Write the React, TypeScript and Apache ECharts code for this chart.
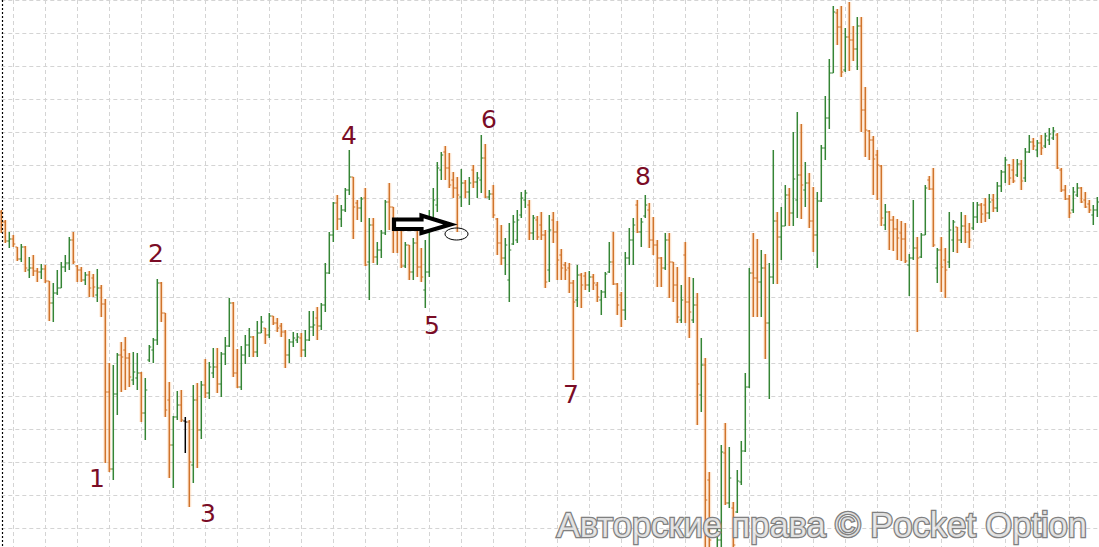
import React, { useEffect, useRef } from "react";
import * as echarts from "echarts";

// Bar levels (vertical screen-level units, axis is inverted:
// a smaller number is a higher price). One entry per bar, left to right.
const opens = [
  212, 222, 241, 239, 247, 259, 247, 270, 268, 271, 272, 269, 281, 303, 293, 288, 267, 263, 240, 266,
  270, 280, 275, 278, 295, 288, 304, 392, 469, 394, 355, 350, 358, 380, 378, 373, 413, 360, 350, 340,
  283, 313, 400, 445, 417, 405, 421, 422, 465, 400, 430, 385, 393, 373, 367, 384, 354, 346, 303, 373,
  387, 355, 345, 337, 352, 333, 328, 335, 316, 323, 326, 332, 355, 342, 340, 338, 350, 340, 327, 318,
  326, 305, 273, 235, 203, 219, 210, 190, 177, 203, 208, 198, 262, 225, 257, 250, 233, 202, 207, 225,
  230, 266, 245, 272, 243, 267, 290, 272, 222, 205, 170, 152, 168, 180, 188, 197, 183, 192, 170, 182,
  180, 158, 197, 194, 219, 243, 258, 280, 244, 240, 215, 200, 205, 233, 220, 225, 235, 270, 220, 232,
  255, 265, 268, 283, 300, 275, 276, 285, 277, 285, 300, 292, 272, 262, 284, 295, 310, 258, 240, 205,
  232, 216, 210, 240, 245, 258, 268, 240, 262, 285, 320, 255, 302, 320, 305, 395, 365, 480, 552, 560,
  540, 453, 503, 508, 512, 482, 451, 387, 273, 278, 282, 268, 323, 277, 221, 237, 226, 195, 213, 200,
  175, 190, 183, 221, 235, 201, 148, 118, 73, 13, 27, 70, 37, 40, 49, 26, 110, 131, 140, 155,
  166, 225, 212, 220, 229, 233, 239, 265, 258, 248, 257, 235, 180, 189, 268, 250, 260, 262, 240, 227,
  240, 226, 232, 228, 217, 205, 205, 213, 200, 208, 186, 172, 165, 170, 175, 164, 178, 152, 142, 150,
  143, 146, 140, 138, 135, 170, 190, 199, 210, 195, 188, 200, 204, 215, 210,
];
const highs = [
  210, 220, 232, 235, 247, 244, 246, 257, 255, 268, 264, 265, 281, 283, 270, 262, 255, 237, 232, 265,
  267, 272, 271, 274, 269, 285, 299, 363, 365, 353, 342, 337, 353, 352, 353, 372, 378, 345, 338, 279,
  282, 313, 382, 416, 391, 390, 417, 420, 385, 383, 381, 359, 362, 348, 348, 352, 337, 298, 302, 349,
  346, 335, 328, 336, 321, 316, 328, 313, 316, 318, 323, 330, 339, 332, 333, 333, 330, 311, 311, 307,
  303, 263, 232, 202, 195, 205, 188, 150, 177, 200, 197, 188, 218, 218, 242, 230, 200, 183, 207, 218,
  230, 242, 245, 238, 230, 248, 240, 210, 188, 162, 152, 146, 153, 172, 177, 169, 180, 177, 165, 172,
  135, 144, 190, 185, 218, 225, 238, 223, 215, 210, 192, 190, 200, 215, 216, 212, 230, 215, 212, 221,
  249, 262, 263, 280, 265, 273, 272, 271, 274, 282, 290, 272, 242, 232, 283, 292, 252, 228, 218, 200,
  218, 195, 203, 217, 240, 257, 233, 233, 262, 267, 285, 242, 277, 278, 293, 338, 358, 472, 548, 527,
  445, 423, 447, 502, 470, 441, 373, 268, 233, 239, 250, 254, 263, 150, 212, 207, 185, 188, 132, 112,
  124, 162, 173, 187, 192, 145, 96, 59, 6, 9, 6, 28, 2, 26, 17, 17, 87, 130, 136, 150,
  165, 204, 211, 216, 219, 221, 223, 254, 200, 237, 233, 185, 176, 168, 248, 237, 248, 212, 220, 227,
  212, 215, 223, 202, 202, 203, 198, 194, 194, 182, 170, 157, 164, 159, 159, 160, 148, 135, 138, 140,
  135, 133, 128, 127, 133, 168, 185, 195, 187, 183, 187, 192, 200, 205, 197,
];
const lows = [
  233, 243, 248, 247, 261, 262, 272, 278, 276, 282, 279, 283, 321, 322, 295, 288, 272, 270, 264, 282,
  282, 285, 297, 297, 302, 317, 463, 472, 480, 415, 392, 390, 387, 385, 390, 422, 440, 362, 363, 345,
  322, 417, 478, 488, 420, 422, 453, 507, 483, 468, 439, 398, 399, 378, 393, 397, 365, 347, 377, 388,
  390, 364, 357, 357, 357, 333, 344, 338, 325, 332, 337, 368, 363, 347, 343, 357, 357, 341, 336, 340,
  330, 312, 274, 242, 230, 227, 212, 195, 239, 220, 222, 266, 300, 263, 265, 258, 235, 230, 253, 253,
  268, 268, 280, 280, 277, 282, 308, 277, 230, 212, 180, 180, 188, 198, 232, 207, 198, 205, 188, 198,
  193, 198, 200, 218, 255, 265, 275, 302, 245, 243, 218, 208, 240, 240, 240, 240, 288, 282, 243, 280,
  280, 280, 293, 380, 307, 308, 290, 292, 290, 302, 315, 298, 273, 285, 315, 327, 320, 265, 265, 233,
  247, 218, 248, 255, 287, 287, 270, 298, 302, 323, 323, 323, 338, 323, 425, 412, 560, 555, 575, 570,
  560, 505, 508, 555, 513, 485, 452, 388, 317, 317, 317, 359, 399, 284, 284, 260, 226, 226, 226, 218,
  219, 207, 228, 252, 268, 202, 160, 129, 73, 45, 77, 72, 71, 61, 70, 132, 157, 160, 195, 200,
  226, 230, 250, 251, 260, 261, 263, 296, 260, 332, 258, 235, 190, 247, 283, 292, 298, 268, 252, 253,
  243, 243, 248, 230, 223, 223, 222, 219, 212, 212, 192, 183, 185, 183, 177, 190, 182, 153, 150, 157,
  155, 148, 145, 140, 169, 192, 200, 218, 213, 197, 203, 208, 213, 225, 217,
];
const closes = [
  222, 241, 239, 244, 259, 247, 268, 268, 271, 272, 269, 281, 303, 293, 288, 267, 263, 240, 262, 270,
  280, 275, 288, 287, 288, 304, 392, 469, 394, 355, 357, 358, 377, 372, 373, 413, 390, 347, 340, 283,
  313, 410, 445, 417, 405, 420, 422, 462, 400, 430, 385, 393, 367, 367, 384, 354, 346, 303, 373, 387,
  355, 345, 337, 352, 333, 322, 335, 316, 323, 328, 332, 355, 342, 338, 337, 350, 340, 327, 325, 326,
  305, 273, 235, 203, 219, 210, 190, 177, 207, 208, 199, 265, 225, 257, 250, 233, 202, 207, 225, 230,
  266, 245, 272, 243, 267, 277, 272, 220, 200, 168, 155, 168, 185, 188, 195, 183, 192, 183, 182, 178,
  158, 197, 194, 215, 243, 258, 245, 250, 222, 220, 198, 193, 233, 218, 237, 235, 282, 230, 232, 260,
  268, 270, 283, 302, 275, 285, 285, 277, 283, 297, 292, 274, 262, 284, 305, 310, 258, 240, 225, 232,
  222, 205, 240, 245, 258, 268, 240, 262, 285, 317, 300, 302, 312, 305, 384, 365, 500, 540, 565, 540,
  452, 503, 478, 545, 481, 451, 387, 273, 278, 282, 268, 323, 277, 221, 237, 226, 195, 213, 179, 175,
  185, 183, 221, 235, 201, 148, 118, 73, 12, 27, 72, 37, 40, 49, 26, 110, 130, 140, 159, 165,
  218, 212, 220, 229, 238, 239, 261, 258, 248, 258, 235, 188, 189, 245, 250, 267, 270, 230, 222, 240,
  226, 232, 240, 217, 205, 214, 213, 202, 208, 186, 172, 160, 178, 181, 164, 181, 152, 142, 146, 143,
  148, 136, 134, 131, 168, 190, 199, 213, 192, 188, 202, 207, 210, 210, 202,
];
// Bars drawn in black (the selected bar)
const blackBars = [46];

// Wave annotations (screen px)
const waveLabels = [
  { text: "1", x: 97, y: 478 },
  { text: "2", x: 156, y: 253 },
  { text: "3", x: 208, y: 513 },
  { text: "4", x: 349, y: 135 },
  { text: "5", x: 432, y: 325 },
  { text: "6", x: 489, y: 119 },
  { text: "7", x: 571, y: 394 },
  { text: "8", x: 643, y: 176 },
];

const WIDTH = 1099;
const HEIGHT = 547;
const GREEN = "#358535";
const ORANGE = "#d0742c";
const LABEL_COLOR = "#7a0c26";

export default function App() {
  const ref = useRef<HTMLDivElement>(null);

  useEffect(() => {
    if (!ref.current) return;
    const chart = echarts.init(ref.current, null, { renderer: "svg" });
    const categories = opens.map((_, i) => String(i));
    const data = opens.map((o, i) => {
      const kind = blackBars.includes(i) ? 2 : closes[i] < o ? 1 : closes[i] > o ? 0 : 1;
      return [i, o, highs[i], lows[i], closes[i], kind];
    });
    const n = opens.length;
    const step = 4;
    const left = 1.3;
    const right = WIDTH - left - (n - 1) * step;

    const graphics: any[] = [
      {
        type: "line",
        shape: { x1: 2.5, y1: 0, x2: 2.5, y2: HEIGHT },
        style: { stroke: "#000", lineWidth: 1.2, lineDash: [2, 2] },
        z: 50,
      },
      ...waveLabels.map((l) => ({
        type: "text",
        x: l.x,
        y: l.y,
        z: 60,
        style: {
          text: l.text,
          fill: LABEL_COLOR,
          font: '25px "DejaVu Sans"',
          fontSize: 25,
          fontFamily: "DejaVu Sans",
          align: "center",
          verticalAlign: "middle",
          textAlign: "center",
          textVerticalAlign: "middle",
        },
      })),
      {
        type: "polygon",
        z: 60,
        shape: {
          points: [
            [394, 219.5],
            [421.5, 219.5],
            [421.5, 215.5],
            [450.5, 224.5],
            [421.5, 233],
            [421.5, 229],
            [394, 229],
          ],
        },
        style: { fill: "#fff", stroke: "#000", lineWidth: 4.2, lineJoin: "miter" },
      },
      {
        type: "ellipse",
        z: 60,
        shape: { cx: 456.5, cy: 234, rx: 11.5, ry: 6 },
        style: { fill: "none", stroke: "#000", lineWidth: 1 },
      },
      {
        type: "text",
        x: 1087,
        y: 525,
        z: 70,
        style: {
          text: "Авторские права © Pocket Option",
          font: '34.5px "Liberation Sans"',
          fontSize: 34.5,
          fontFamily: "Liberation Sans",
          fill: "rgba(255,255,255,0.75)",
          stroke: "#808080",
          lineWidth: 2.6,
          align: "right",
          verticalAlign: "middle",
          textAlign: "right",
          textVerticalAlign: "middle",
        },
      },
    ];

    chart.setOption({
      animation: false,
      backgroundColor: "#ffffff",
      grid: { left, right, top: 0, bottom: 0, containLabel: false },
      xAxis: {
        type: "category",
        data: categories,
        boundaryGap: false,
        axisLine: { show: false },
        axisTick: { show: false },
        axisLabel: { show: false },
        splitLine: {
          show: true,
          interval: (index: number) => index >= 3 && (index - 3) % 8 === 0,
          lineStyle: { color: "#d4d4d4", width: 1, type: [4, 3] },
        },
      },
      yAxis: {
        type: "value",
        inverse: true,
        min: 0,
        max: HEIGHT,
        interval: 33,
        axisLine: { show: false },
        axisTick: { show: false },
        axisLabel: { show: false },
        splitLine: {
          show: true,
          lineStyle: { color: "#d4d4d4", width: 1, type: [4, 3] },
        },
      },
      series: [
        {
          type: "custom",
          data,
          encode: { x: 0, y: [1, 2, 3, 4] },
          renderItem: (params: any, api: any) => {
            const i = api.value(0);
            const o = api.value(1);
            const h = api.value(2);
            const l = api.value(3);
            const c = api.value(4);
            const kind = api.value(5);
            const pH = api.coord([i, h]);
            const pL = api.coord([i, l]);
            const pO = api.coord([i, o]);
            const pC = api.coord([i, c]);
            const x = pH[0];
            const color = kind === 2 ? "#000000" : kind === 1 ? GREEN : ORANGE;
            const children: any[] = [];
            if (kind === 0) {
              children.push({
                type: "line",
                shape: { x1: x, y1: pH[1], x2: x, y2: pL[1] },
                style: { stroke: "rgba(255,196,140,0.35)", lineWidth: 4 },
              });
            }
            children.push({
              type: "line",
              shape: { x1: x, y1: pH[1], x2: x, y2: pL[1] },
              style: { stroke: color, lineWidth: 1.5 },
            });
            children.push({
              type: "line",
              shape: { x1: x - 2, y1: pO[1], x2: x, y2: pO[1] },
              style: { stroke: color, lineWidth: 1 },
            });
            children.push({
              type: "line",
              shape: { x1: x, y1: pC[1], x2: x + 2, y2: pC[1] },
              style: { stroke: color, lineWidth: 1 },
            });
            return { type: "group", children };
          },
        },
      ],
      graphic: graphics,
    });

    return () => chart.dispose();
  }, []);

  return (
    <div
      ref={ref}
      style={{ position: "absolute", left: 0, top: 0, width: WIDTH, height: HEIGHT, background: "#fff" }}
    />
  );
}
